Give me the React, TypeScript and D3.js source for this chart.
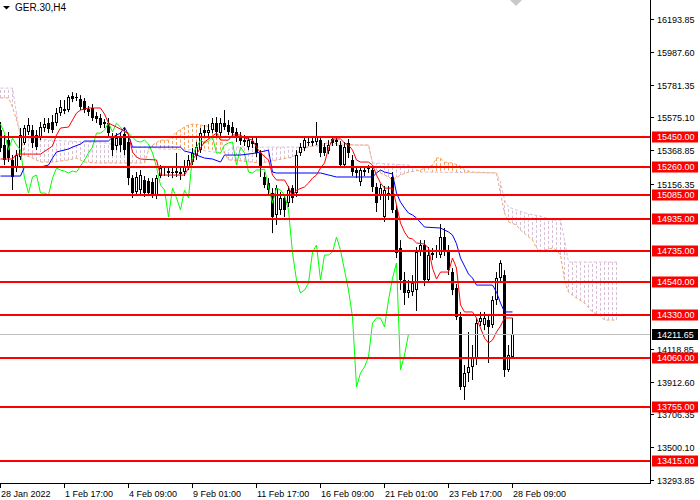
import { line, scaleLinear } from 'd3'

const symbolLabel = 'GER.30,H4'

// H4 candles, 28 Jan 2022 .. 28 Feb 2022
const opens = [
  15495, 15401, 15432, 15307, 15256, 15325, 15414, 15483, 15495, 15464,
  15451, 15508, 15539, 15546, 15539, 15602, 15627, 15621, 15709, 15703,
  15690, 15678, 15627, 15634, 15583, 15571, 15546, 15539, 15458, 15395,
  15445, 15470, 15420, 15193, 15105, 15118, 15181, 15175, 15168, 15086,
  15206, 15237, 15225, 15231, 15225, 15219, 15231, 15263, 15294, 15338,
  15369, 15495, 15476, 15495, 15539, 15476, 15539, 15527, 15514, 15483,
  15458, 15432, 15388, 15426, 15414, 15351, 15200, 15162, 15099, 14961,
  14992, 15068, 15036, 15130, 15099, 15351, 15382, 15420, 15414, 15420,
  15432, 15388, 15363, 15439, 15432, 15401, 15275, 15414, 15307, 15244,
  15168, 15231, 15256, 15244, 15137, 15086, 14948, 15099, 15200, 14992,
  14753, 14552, 14470, 14476, 14489, 14728, 14772, 14552, 14721, 14740,
  14709, 14822, 14740, 14602, 14501, 14319, 13879, 13967, 14005, 14061,
  14288, 14269, 14300, 14269, 14426, 14564, 14583, 13986, 14067,
]

const highs = [
  15546, 15464, 15483, 15338, 15369, 15508, 15527, 15571, 15527, 15495,
  15546, 15571, 15571, 15590, 15634, 15684, 15684, 15715, 15734, 15728,
  15715, 15697, 15646, 15659, 15608, 15596, 15564, 15571, 15476, 15476,
  15483, 15508, 15445, 15212, 15231, 15244, 15206, 15193, 15193, 15212,
  15275, 15269, 15269, 15262, 15351, 15256, 15307, 15338, 15382, 15420,
  15508, 15527, 15533, 15571, 15577, 15571, 15621, 15558, 15546, 15508,
  15483, 15464, 15458, 15451, 15445, 15369, 15231, 15193, 15130, 15149,
  15105, 15086, 15143, 15149, 15369, 15414, 15458, 15445, 15458, 15546,
  15458, 15414, 15432, 15458, 15451, 15426, 15420, 15439, 15338, 15263,
  15269, 15269, 15275, 15269, 15162, 15156, 15143, 15143, 15231, 15024,
  14803, 14602, 14552, 14583, 14759, 14803, 14803, 14759, 14753, 14772,
  14904, 14879, 14772, 14627, 14527, 14351, 14017, 14225, 14143, 14313,
  14351, 14351, 14332, 14451, 14602, 14677, 14614, 14143, 14313,
]

const lows = [
  15357, 15275, 15294, 15118, 15231, 15307, 15401, 15464, 15382, 15369,
  15432, 15483, 15476, 15476, 15520, 15583, 15596, 15608, 15671, 15678,
  15621, 15602, 15583, 15552, 15539, 15508, 15508, 15445, 15332, 15369,
  15357, 15338, 15149, 15068, 15080, 15086, 15074, 15080, 15068, 15061,
  15193, 15206, 15200, 15193, 15200, 15181, 15206, 15244, 15275, 15307,
  15351, 15451, 15458, 15476, 15458, 15458, 15495, 15464, 15451, 15420,
  15401, 15395, 15369, 15382, 15325, 15200, 15130, 15086, 14847, 14898,
  14961, 14948, 15011, 15036, 15074, 15332, 15363, 15395, 15395, 15401,
  15325, 15332, 15344, 15395, 15395, 15256, 15256, 15319, 15206, 15193,
  15143, 15206, 15225, 15105, 14980, 15055, 14917, 15055, 14973, 14690,
  14489, 14395, 14439, 14451, 14357, 14703, 14514, 14533, 14677, 14690,
  14690, 14703, 14583, 14457, 14300, 13860, 13797, 13910, 13923, 14017,
  14262, 14237, 14030, 14250, 14395, 14539, 13942, 13973, 14055,
]

const closes = [
  15382, 15307, 15319, 15200, 15338, 15464, 15508, 15527, 15414, 15388,
  15514, 15533, 15502, 15495, 15602, 15640, 15615, 15703, 15690, 15697,
  15640, 15621, 15608, 15571, 15564, 15527, 15533, 15476, 15369, 15445,
  15401, 15369, 15193, 15099, 15200, 15212, 15099, 15099, 15086, 15193,
  15256, 15244, 15237, 15225, 15237, 15231, 15269, 15307, 15351, 15388,
  15476, 15476, 15495, 15539, 15483, 15539, 15514, 15483, 15476, 15451,
  15426, 15420, 15432, 15407, 15351, 15263, 15149, 15118, 14948, 15130,
  15068, 14992, 15118, 15068, 15338, 15388, 15432, 15414, 15426, 15451,
  15351, 15351, 15401, 15414, 15420, 15275, 15388, 15351, 15231, 15225,
  15244, 15244, 15250, 15137, 15036, 15130, 15118, 15086, 14992, 14722,
  14552, 14470, 14489, 14533, 14728, 14772, 14552, 14709, 14709, 14728,
  14822, 14740, 14614, 14489, 14319, 13879, 13967, 14005, 14068, 14281,
  14313, 14313, 14256, 14426, 14564, 14659, 13986, 14080, 14211.65,
]

// Ichimoku, read as [bar, price] turning points
const tenkan: [number, number][] = [
  [0, 15313], [3, 15313], [4, 15344], [10, 15344], [13, 15395], [14, 15464],
  [15, 15508], [17, 15514], [18, 15558], [19, 15602], [20, 15621], [22, 15634],
  [25, 15634], [26, 15596], [27, 15539], [29, 15514], [31, 15489], [32, 15470],
  [33, 15357], [34, 15325], [35, 15313], [39, 15307], [40, 15212], [46, 15212],
  [47, 15256], [48, 15307], [49, 15344], [50, 15382], [51, 15420], [53, 15458],
  [54, 15476], [55, 15432], [57, 15432], [58, 15464], [60, 15464], [61, 15445],
  [63, 15432], [64, 15388], [65, 15351], [67, 15307], [68, 15212], [69, 15181],
  [71, 15181], [72, 15137], [73, 15080], [74, 15118], [76, 15137], [77, 15162],
  [78, 15193], [79, 15212], [80, 15256], [81, 15288], [82, 15380], [83, 15439],
  [85, 15439], [86, 15414], [87, 15401], [88, 15369], [89, 15307], [90, 15294],
  [92, 15294], [93, 15275], [94, 15212], [95, 15162], [96, 15130], [98, 15130],
  [99, 15024], [100, 14910], [101, 14854], [102, 14816], [103, 14810], [104, 14785],
  [106, 14778], [107, 14753], [108, 14627], [109, 14558], [110, 14602], [112, 14602],
  [113, 14690], [114, 14627], [115, 14395], [116, 14351], [118, 14351], [119, 14313],
  [121, 14187], [122, 14156], [123, 14174], [124, 14225], [125, 14262], [126, 14313],
  [128, 14313],
]

const kijun: [number, number][] = [
  [0, 15206], [5, 15206], [6, 15263], [10, 15263], [12, 15275], [13, 15319],
  [14, 15357], [17, 15376], [18, 15388], [20, 15407], [21, 15426], [27, 15426],
  [28, 15451], [30, 15476], [31, 15514], [32, 15464], [33, 15388], [45, 15388],
  [46, 15363], [48, 15351], [49, 15338], [51, 15319], [53, 15313], [55, 15294],
  [56, 15338], [60, 15338], [64, 15351], [67, 15369], [68, 15231], [69, 15225],
  [80, 15225], [84, 15200], [93, 15200], [94, 15225], [95, 15244], [96, 15231],
  [98, 15219], [99, 15099], [100, 15042], [101, 15005], [102, 14973], [103, 14961],
  [104, 14942], [106, 14885], [110, 14879], [112, 14854], [113, 14835], [114, 14780],
  [115, 14690], [116, 14640], [117, 14590], [118, 14564], [119, 14520], [123, 14520],
  [124, 14476], [125, 14407], [126, 14351], [128, 14351],
]

const spanA: [number, number][] = [
  [0, 15697], [2, 15697], [3, 15640], [4, 15560], [5, 15464], [6, 15338],
  [8, 15319], [10, 15294], [13, 15294], [17, 15307], [19, 15319], [21, 15294],
  [24, 15288], [36, 15288], [37, 15369], [38, 15401], [40, 15432], [42, 15432],
  [44, 15483], [46, 15514], [47, 15527], [48, 15533], [50, 15527], [53, 15514],
  [55, 15451], [56, 15351], [57, 15307], [58, 15307], [65, 15288], [69, 15307],
  [73, 15325], [75, 15369], [77, 15388], [79, 15401], [82, 15414], [89, 15401],
  [92, 15401], [93, 15288], [94, 15244], [95, 15225], [97, 15200], [98, 15181],
  [100, 15212], [102, 15231], [105, 15244], [108, 15275], [109, 15319], [110, 15319],
  [111, 15294], [113, 15288], [115, 15269], [116, 15244], [118, 15231], [124, 15225],
  [125, 15099], [126, 14973], [127, 14917], [129, 14898], [130, 14866], [133, 14803],
  [134, 14753], [135, 14728], [136, 14740], [138, 14753], [139, 14740], [140, 14709],
  [141, 14552], [142, 14476], [144, 14439], [146, 14407], [148, 14351], [150, 14326],
  [151, 14300], [154, 14300],
]

const spanB: [number, number][] = [
  [0, 15759], [3, 15759], [4, 15600], [5, 15451], [12, 15432], [21, 15420],
  [26, 15414], [32, 15388], [38, 15388], [40, 15376], [50, 15369], [55, 15351],
  [57, 15369], [58, 15388], [75, 15388], [83, 15401], [92, 15401], [93, 15288],
  [102, 15275], [105, 15231], [124, 15225], [125, 15168], [126, 15055], [127, 15011],
  [129, 14992], [132, 14967], [135, 14954], [138, 14929], [140, 14929], [141, 14803],
  [142, 14665], [154, 14665],
]

const chikouShift = 26

const levels = [15450, 15260, 15085, 14935, 14735, 14540, 14330, 14060, 13755, 13415]
const lastPrice = 14211.65

const priceTicks = [16193.85, 15987.6, 15781.35, 15575.1, 15368.85, 15156.35, 14118.85, 13912.6, 13706.35, 13500.1, 13293.85]

const timeTicks = [0, 16, 32, 48, 64, 80, 96, 112, 128]
const timeLabels = ['28 Jan 2022', '1 Feb 17:00', '4 Feb 09:00', '9 Feb 01:00', '11 Feb 17:00', '16 Feb 09:00', '21 Feb 01:00', '23 Feb 17:00', '28 Feb 09:00']

const width = 700
const height = 500
const plotRight = 650
const plotBottom = 483

const font = '"Liberation Sans", Arial, sans-serif'

function valueAt(points: [number, number][], bar: number) {
  for (let k = 0; k < points.length - 1; k++) {
    const [b0, v0] = points[k]
    const [b1, v1] = points[k + 1]
    if (bar >= b0 && bar <= b1) {
      return b1 === b0 ? v1 : v0 + ((v1 - v0) * (bar - b0)) / (b1 - b0)
    }
  }
  return points[points.length - 1][1]
}

function App() {
  const xScale = scaleLinear().domain([0, 162.5]).range([0, plotRight])
  const yScale = scaleLinear().domain([13293.85, 16193.85]).range([480, 19])

  const cx = (bar: number) => Math.round(xScale(bar)) + 0.5

  const stepLine = line<[number, number]>()
    .x((d) => cx(d[0]))
    .y((d) => yScale(d[1]))

  const chikouPoints: [number, number][] = closes
    .slice(chikouShift)
    .map((close, k) => [k, close])

  const cloudBars = Array.from({ length: 155 }, (_, bar) => bar)

  return (
    <svg
      width={width}
      height={height}
      style={{ position: 'absolute', left: 0, top: 0, background: '#ffffff' }}
      fontFamily={font}
    >
      <defs>
        <clipPath id="plot">
          <rect x={0} y={0} width={plotRight} height={plotBottom} />
        </clipPath>
      </defs>

      <g clipPath="url(#plot)">
        {cloudBars.map((bar) => {
          const a = valueAt(spanA, bar)
          const b = valueAt(spanB, bar)
          return (
            <line
              key={`cloud-${bar}`}
              x1={cx(bar)}
              x2={cx(bar)}
              y1={yScale(a)}
              y2={yScale(b)}
              stroke={a >= b ? '#f4a460' : '#d8bfd8'}
              strokeWidth={1}
              strokeDasharray="3 2"
            />
          )
        })}

        <path d={stepLine(spanA) ?? ''} fill="none" stroke="#f4a460" strokeWidth={1} strokeDasharray="3 2" />
        <path d={stepLine(spanB) ?? ''} fill="none" stroke="#d8bfd8" strokeWidth={1} strokeDasharray="3 2" />

        {opens.map((open, bar) => {
          const close = closes[bar]
          const x = cx(bar)
          const top = Math.round(yScale(Math.max(open, close)))
          const bottom = Math.round(yScale(Math.min(open, close)))
          const bull = close >= open
          return (
            <g key={`candle-${bar}`}>
              <line x1={x} x2={x} y1={yScale(highs[bar])} y2={yScale(lows[bar])} stroke="#000000" strokeWidth={1} />
              {bull ? (
                <rect x={x - 1} y={top + 0.5} width={2} height={Math.max(bottom - top - 1, 0)} fill="#ffffff" stroke="#000000" strokeWidth={1} />
              ) : (
                <rect x={x - 1.5} y={top} width={3} height={Math.max(bottom - top, 1)} fill="#000000" />
              )}
            </g>
          )
        })}

        <path d={stepLine(chikouPoints) ?? ''} fill="none" stroke="#00ff00" strokeWidth={1} />
        <path d={stepLine(kijun) ?? ''} fill="none" stroke="#0000ff" strokeWidth={1} />
        <path d={stepLine(tenkan) ?? ''} fill="none" stroke="#ff0000" strokeWidth={1} />

        <line x1={0} x2={plotRight} y1={Math.round(yScale(lastPrice)) + 0.5} y2={Math.round(yScale(lastPrice)) + 0.5} stroke="#c0c0c0" strokeWidth={1} />

        {levels.map((level) => (
          <line key={`level-${level}`} x1={0} x2={plotRight} y1={Math.round(yScale(level))} y2={Math.round(yScale(level))} stroke="#ff0000" strokeWidth={2} />
        ))}
      </g>

      {/* shift marker */}
      <polygon points="510,0 522,0 516,6" fill="#c8c8c8" />

      {/* title */}
      <polygon points="3,6 10,6 6.5,9.5" fill="#000000" />
      <text x={15} y={11} fontSize={10} fill="#000000">{symbolLabel}</text>

      {/* axes */}
      <line x1={plotRight + 0.5} x2={plotRight + 0.5} y1={0} y2={plotBottom} stroke="#000000" strokeWidth={1} />
      <line x1={0} x2={plotRight + 1} y1={plotBottom + 0.5} y2={plotBottom + 0.5} stroke="#000000" strokeWidth={1} />

      {priceTicks.map((tick) => {
        const y = Math.round(yScale(tick)) + 0.5
        return (
          <g key={`ptick-${tick}`}>
            <line x1={plotRight} x2={plotRight + 4} y1={y} y2={y} stroke="#000000" strokeWidth={1} />
            <text x={657} y={y + 3.2} fontSize={9} fill="#000000">{tick.toFixed(2)}</text>
          </g>
        )
      })}

      {levels.map((level) => {
        const y = Math.round(yScale(level))
        return (
          <g key={`plabel-${level}`}>
            <rect x={652} y={y - 5.5} width={46} height={11} fill="#ff0000" />
            <text x={657} y={y + 3.2} fontSize={9} fill="#ffffff">{level.toFixed(2)}</text>
          </g>
        )
      })}

      <rect x={652} y={Math.round(yScale(lastPrice)) - 5} width={46} height={11} fill="#000000" />
      <text x={657} y={Math.round(yScale(lastPrice)) + 3.7} fontSize={9} fill="#ffffff">{lastPrice.toFixed(2)}</text>

      {timeTicks.map((bar, k) => {
        const x = cx(bar)
        return (
          <g key={`ttick-${bar}`}>
            <line x1={x} x2={x} y1={plotBottom} y2={plotBottom + 5} stroke="#000000" strokeWidth={1} />
            <text x={x + 0.5} y={497} fontSize={9} fill="#000000">{timeLabels[k]}</text>
          </g>
        )
      })}
    </svg>
  )
}

export default App
